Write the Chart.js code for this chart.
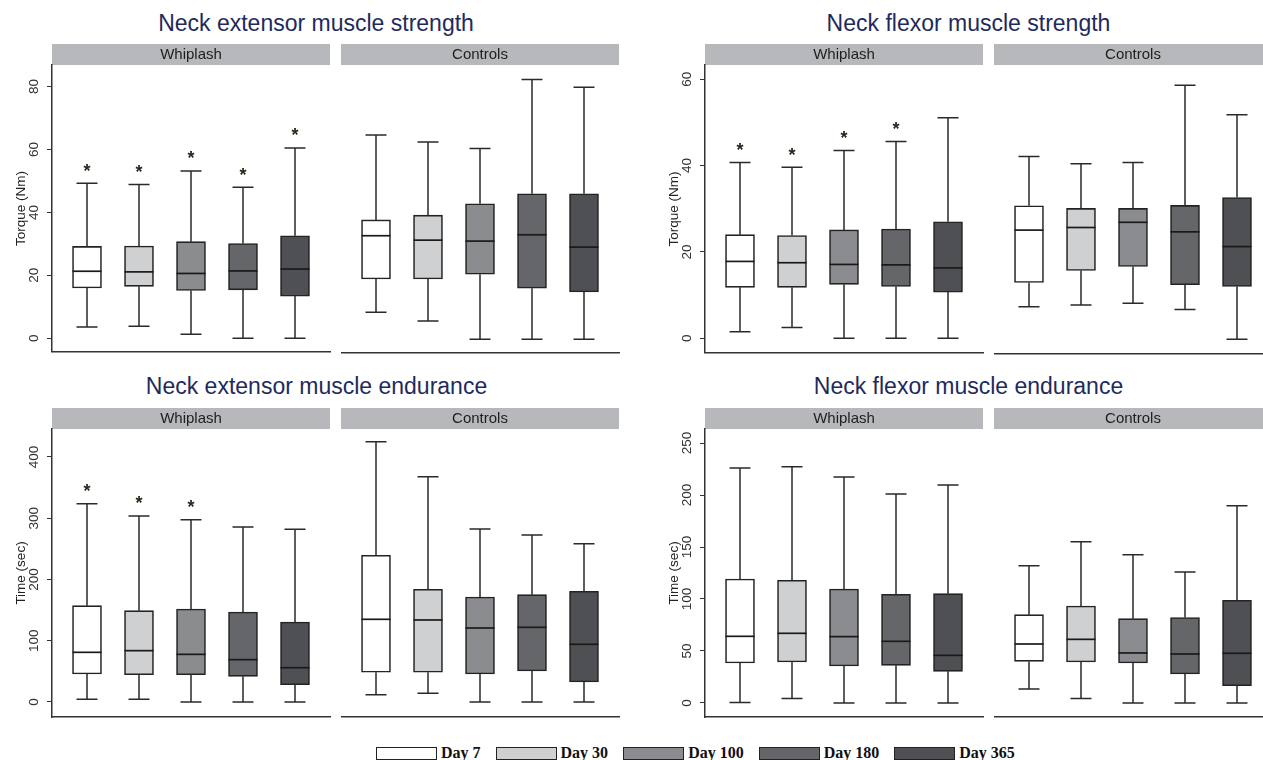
<!DOCTYPE html>
<html>
<head>
<meta charset="utf-8">
<script src="https://cdn.jsdelivr.net/npm/chart.js@4.4.1/dist/chart.umd.min.js"></script>
<style>
html,body{margin:0;padding:0;background:#fff;overflow:hidden;width:1263px;height:760px;}
#stage{position:relative;width:1263px;height:760px;overflow:hidden;}
#stage canvas{position:absolute;}
.ttl{position:absolute;font:23px "Liberation Sans",Arial,sans-serif;color:#1f2a5c;white-space:nowrap;line-height:23px;transform:translateX(-50%);}
#legend{position:absolute;left:376px;top:744px;display:flex;align-items:center;gap:15px;font:bold 16px "Liberation Serif","Times New Roman",serif;color:#111;}
.li{display:flex;align-items:center;gap:4px;}
.sw{width:59px;height:11px;border:1.5px solid #222;}
</style>
</head>
<body>
<div id="stage"></div>
<script>
// ---------- categories ----------
const days = ['Day 7', 'Day 30', 'Day 100', 'Day 180', 'Day 365'];
const groups = ['Whiplash', 'Controls'];
const panelTitles = ['Neck extensor muscle strength', 'Neck flexor muscle strength',
                     'Neck extensor muscle endurance', 'Neck flexor muscle endurance'];
const yTitles = ['Torque (Nm)', 'Torque (Nm)', 'Time (sec)', 'Time (sec)'];
const yTicksA = [0, 20, 40, 60, 80];
const yTicksB = [0, 20, 40, 60];
const yTicksC = [0, 100, 200, 300, 400];
const yTicksD = [0, 50, 100, 150, 200, 250];

// ---------- A: neck extensor strength ----------
const extStrW_min = [3.6, 3.8, 1.3, 0, 0];
const extStrW_q1  = [16.0, 16.5, 15.2, 15.4, 13.4];
const extStrW_med = [21.3, 21.1, 20.6, 21.4, 22.0];
const extStrW_q3  = [29.2, 29.3, 30.7, 30.1, 32.6];
const extStrW_max = [49.3, 48.9, 53.2, 48.0, 60.5];
const extStrW_sig = [true, true, true, true, true];
const extStrC_min = [8.6, 5.8, 0, 0, 0];
const extStrC_q1  = [19.1, 19.1, 20.6, 16.2, 15.0];
const extStrC_med = [32.8, 31.4, 31.1, 33.1, 29.2];
const extStrC_q3  = [37.8, 39.3, 42.9, 46.1, 46.1];
const extStrC_max = [64.7, 62.5, 60.4, 82.3, 79.8];

// ---------- B: neck flexor strength ----------
const flxStrW_min = [1.5, 2.5, 0, 0, 0];
const flxStrW_q1  = [11.8, 11.8, 12.5, 12.0, 10.7];
const flxStrW_med = [17.8, 17.5, 17.1, 17.0, 16.3];
const flxStrW_q3  = [24.0, 23.8, 25.1, 25.3, 27.0];
const flxStrW_max = [40.7, 39.6, 43.5, 45.6, 51.1];
const flxStrW_sig = [true, true, true, true, false];
const flxStrC_min = [7.5, 7.9, 8.3, 6.9, 0];
const flxStrC_q1  = [13.1, 15.9, 16.8, 12.6, 12.2];
const flxStrC_med = [25.2, 25.8, 27.0, 24.8, 21.4];
const flxStrC_q3  = [30.8, 30.2, 30.2, 30.9, 32.7];
const flxStrC_max = [42.2, 40.5, 40.8, 58.6, 51.8];

// ---------- C: neck extensor endurance ----------
const extEndW_min = [4.3, 4.3, 0, 0, 0];
const extEndW_q1  = [45.7, 44.6, 44.6, 41.9, 28.3];
const extEndW_med = [81.1, 83.8, 77.8, 69.1, 56.0];
const extEndW_q3  = [157.3, 149.1, 151.8, 146.9, 130.6];
const extEndW_max = [323.8, 303.7, 297.7, 285.7, 281.9];
const extEndW_sig = [true, true, true, false, false];
const extEndC_min = [12, 14.2, 0, 0, 0];
const extEndC_q1  = [48.5, 48.5, 45.7, 50.6, 32.7];
const extEndC_med = [135, 133.9, 120.8, 121.9, 94.2];
const extEndC_q3  = [239.5, 184, 171.4, 175.2, 180.7];
const extEndC_max = [425, 367.9, 282.4, 272.7, 258.4];

// ---------- D: neck flexor endurance ----------
const flxEndW_min = [0.5, 4.2, 0, 0, 0];
const flxEndW_q1  = [38.5, 39.4, 35.6, 36.2, 30.4];
const flxEndW_med = [64.1, 67.0, 63.8, 59.3, 45.8];
const flxEndW_q3  = [119.2, 118.0, 109.6, 104.5, 105.1];
const flxEndW_max = [226, 227.2, 217.3, 201, 209.6];
const flxEndC_min = [13.5, 4.2, 0, 0, 0];
const flxEndC_q1  = [40, 39.4, 38.5, 27.9, 16.6];
const flxEndC_med = [56.7, 61.2, 48.1, 47.1, 47.8];
const flxEndC_q3  = [84.9, 93.3, 81.1, 82.1, 98.8];
const flxEndC_max = [132, 155.1, 142.6, 126, 189.7];
const noSig = [false, false, false, false, false];

// ---------- styles ----------
const FONT = '"Liberation Sans", Arial, sans-serif';
const dayColors = ['#ffffff', '#cfd0d2', '#8a8c90', '#646669', '#4e5054'];
Chart.defaults.font.family = FONT;

const stripPlugin = {
  id: 'strip',
  beforeDraw(chart) {
    const tb = chart.titleBlock;
    if (!tb) return;
    const ctx = chart.ctx;
    ctx.save();
    ctx.fillStyle = '#b6b8bb';
    ctx.fillRect(chart.chartArea.left, tb.top, chart.chartArea.right - chart.chartArea.left, tb.height);
    ctx.restore();
  }
};

const boxPlugin = {
  id: 'boxwhisk',
  afterDatasetsDraw(chart) {
    const ds = chart.data.datasets[0];
    const xs = chart.scales.x, ys = chart.scales.y;
    const ctx = chart.ctx;
    ctx.save();
    ds.data.forEach((d, i) => {
      const x = xs.getPixelForValue(d.x);
      const yLo = ys.getPixelForValue(ds.lo[i]);
      const yQ1 = ys.getPixelForValue(d.y[0]);
      const yQ3 = ys.getPixelForValue(d.y[1]);
      const yHi = ys.getPixelForValue(ds.hi[i]);
      const yMed = ys.getPixelForValue(ds.med[i]);
      ctx.strokeStyle = '#2a2a2a';
      ctx.lineWidth = 1.5;
      ctx.beginPath();
      ctx.moveTo(x, yQ1); ctx.lineTo(x, yLo);
      ctx.moveTo(x - 10.5, yLo); ctx.lineTo(x + 10.5, yLo);
      ctx.moveTo(x, yQ3); ctx.lineTo(x, yHi);
      ctx.moveTo(x - 10.5, yHi); ctx.lineTo(x + 10.5, yHi);
      ctx.stroke();
      ctx.strokeStyle = '#1a1a1a';
      ctx.lineWidth = 1.7;
      ctx.beginPath();
      ctx.moveTo(x - 14.5, yMed); ctx.lineTo(x + 14.5, yMed);
      ctx.stroke();
      if (ds.sig[i]) {
        ctx.fillStyle = '#2e261c';
        ctx.font = 'bold 18px ' + FONT;
        ctx.textAlign = 'center';
        ctx.textBaseline = 'alphabetic';
        ctx.fillText('*', x, yHi - 6.5);
      }
    });
    ctx.restore();
  }
};

const stage = document.getElementById('stage');

function makeChart(p) {
  const cv = document.createElement('canvas');
  const plotW = 278, axisW = 52, padR = 6, padB = 12;
  const width = (p.showY ? axisW : 0) + plotW + padR;
  const height = Math.round(p.bottom - p.stripTop) + padB;
  cv.width = width; cv.height = height;
  cv.style.left = (p.plotLeft - (p.showY ? axisW : 0)) + 'px';
  cv.style.top = p.stripTop + 'px';
  cv.style.width = width + 'px'; cv.style.height = height + 'px';
  stage.appendChild(cv);

  const yScale = {
    display: p.showY,
    min: p.yMin, max: p.yMax,
    afterBuildTicks(s) { s.ticks = p.ticks.map(v => ({value: v})); },
    ticks: {
      includeBounds: false, autoSkip: false,
      minRotation: 90, maxRotation: 90, crossAlign: 'center',
      padding: p.tickPad, color: '#333', font: {size: 13.5, family: FONT}
    },
    grid: {display: true, drawOnChartArea: false, drawTicks: true, tickLength: 5, color: '#333', lineWidth: 1},
    border: {display: true, color: '#333', width: 1.5},
    title: {display: p.showY, text: p.yTitle, color: '#222', font: {size: 13.5, family: FONT}, padding: {top: 13, bottom: 0}}
  };
  if (p.showY) yScale.afterFit = (s) => { s.width = axisW; };

  return new Chart(cv, {
    type: 'bar',
    data: {
      datasets: [{
        data: days.map((d, i) => ({x: i + 1, y: [p.q1[i], p.q3[i]]})),
        lo: p.lo, med: p.med, hi: p.hi, sig: p.sig,
        backgroundColor: dayColors,
        borderColor: '#232323',
        borderWidth: 1.6,
        borderSkipped: false,
        barThickness: 29
      }]
    },
    options: {
      responsive: false, animation: false, events: [],
      layout: {padding: {left: 0, right: padR, top: 0, bottom: padB}, autoPadding: false},
      plugins: {
        legend: {display: false}, tooltip: {enabled: false},
        title: {display: true, text: p.group, position: 'top', fullSize: false, align: 'center',
                color: '#1e1e1e', font: {size: 15, family: FONT, weight: 'normal', lineHeight: 1.2},
                padding: {top: 1.5, bottom: 1.5}}
      },
      scales: {
        x: {type: 'linear', offset: false, min: 1 - 35 / 52, max: 5 + 35 / 52,
            ticks: {display: false}, grid: {display: false, drawTicks: false},
            border: {display: true, color: '#333', width: 1.6}},
        y: yScale
      }
    },
    plugins: [stripPlugin, boxPlugin]
  });
}

function addTitle(text, cx, top) {
  const d = document.createElement('div');
  d.className = 'ttl';
  d.textContent = text;
  d.style.left = cx + 'px';
  d.style.top = top + 'px';
  stage.appendChild(d);
}

const panels = [
  {title: panelTitles[0], cx: 316, tTop: 12, stripTop: 44, bottom: 353, wLeft: 52, cLeft: 341,
   yMin: -4.34, yMax: 86.87, ticks: yTicksA, tickPad: 5, yTitle: yTitles[0],
   W: [extStrW_min, extStrW_q1, extStrW_med, extStrW_q3, extStrW_max, extStrW_sig],
   C: [extStrC_min, extStrC_q1, extStrC_med, extStrC_q3, extStrC_max, noSig]},
  {title: panelTitles[1], cx: 968.5, tTop: 12, stripTop: 44, bottom: 354, wLeft: 705, cLeft: 994,
   yMin: -3.39, yMax: 63.3, ticks: yTicksB, tickPad: 5, yTitle: yTitles[1],
   W: [flxStrW_min, flxStrW_q1, flxStrW_med, flxStrW_q3, flxStrW_max, flxStrW_sig],
   C: [flxStrC_min, flxStrC_q1, flxStrC_med, flxStrC_q3, flxStrC_max, noSig]},
  {title: panelTitles[2], cx: 316.5, tTop: 374.5, stripTop: 408, bottom: 717, wLeft: 52, cLeft: 341,
   yMin: -24.5, yMax: 445.7, ticks: yTicksC, tickPad: 1.2, yTitle: yTitles[2],
   W: [extEndW_min, extEndW_q1, extEndW_med, extEndW_q3, extEndW_max, extEndW_sig],
   C: [extEndC_min, extEndC_q1, extEndC_med, extEndC_q3, extEndC_max, noSig]},
  {title: panelTitles[3], cx: 968.5, tTop: 375, stripTop: 408, bottom: 717, wLeft: 705, cLeft: 994,
   yMin: -13.5, yMax: 263.5, ticks: yTicksD, tickPad: 1.2, yTitle: yTitles[3],
   W: [flxEndW_min, flxEndW_q1, flxEndW_med, flxEndW_q3, flxEndW_max, noSig],
   C: [flxEndC_min, flxEndC_q1, flxEndC_med, flxEndC_q3, flxEndC_max, noSig]}
];

panels.forEach(P => {
  addTitle(P.title, P.cx, P.tTop);
  [['W', groups[0], P.wLeft, true], ['C', groups[1], P.cLeft, false]].forEach(([k, g, left, showY]) => {
    const s = P[k];
    makeChart({group: g, plotLeft: left, showY, stripTop: P.stripTop, bottom: P.bottom,
      yMin: P.yMin, yMax: P.yMax, ticks: P.ticks, tickPad: P.tickPad, yTitle: P.yTitle,
      lo: s[0], q1: s[1], med: s[2], q3: s[3], hi: s[4], sig: s[5]});
  });
});

// ---------- legend ----------
const lg = document.createElement('div');
lg.id = 'legend';
days.forEach((d, i) => {
  const it = document.createElement('div'); it.className = 'li';
  const sw = document.createElement('div'); sw.className = 'sw'; sw.style.background = dayColors[i];
  const tx = document.createElement('span'); tx.textContent = d;
  it.appendChild(sw); it.appendChild(tx); lg.appendChild(it);
});
stage.appendChild(lg);
</script>
</body>
</html>
